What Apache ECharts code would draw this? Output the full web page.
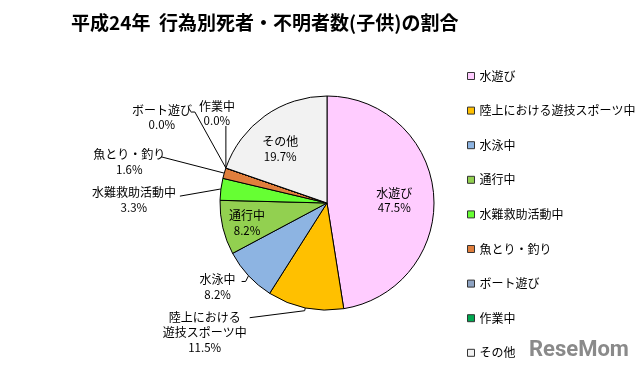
<!DOCTYPE html>
<html><head><meta charset="utf-8">
<script src="https://cdn.jsdelivr.net/npm/echarts@6/dist/echarts.min.js"></script>
<style>html,body{margin:0;padding:0;background:#fff}#c{width:640px;height:373px}</style>
</head><body><div id="c"></div>
<script>
const categories = ['水遊び','陸上における遊技スポーツ中','水泳中','通行中','水難救助活動中','魚とり・釣り','ボート遊び','作業中','その他'];
const labelNames = ['水遊び','陸上における\n遊技スポーツ中','水泳中','通行中','水難救助活動中','魚とり・釣り','ボート遊び','作業中','その他'];
const shares = [47.5, 11.5, 8.2, 8.2, 3.3, 1.6, 0.0, 0.0, 19.7];
const colors = ['#FFCCFF','#FFC000','#8DB4E2','#92D050','#66FF33','#E07E3C','#8EA3C2','#00A850','#F2F2F2'];

const FONT = '"Noto Sans CJK JP", sans-serif';
const insideOffsets = {0:[11,2], 3:[-25,7], 8:[-14,-8]};
// label line: [length, length2]
const lineLen = {1:[3,55], 2:[4,4], 4:[1,40], 5:[1,62], 6:[0,35], 7:[0,0]};
// adjustments relative to ECharts' default leader line: elbow shift, end shift, label shift from end
const lineAdj = {
  1: {elbow:[0,0],   end:[0,7],    label:[-45,-7.5]},
  2: {elbow:[0,3],   end:[0,3],    label:[-24,-9.5]},
  4: {elbow:[0,0],   end:[0,7],    label:[-46,-11.5]},
  5: {elbow:[0,0],   end:[0,-16],  label:[-32,-9.5]},
  6: {elbow:[-31,-56], end:[0,-56], label:[-29,-9.5]},
  7: {elbow:[0,-20], end:[0,-42],  label:[-9,-27.5]}
};

const data = categories.map((c, i) => {
  const inside = insideOffsets[i] !== undefined;
  const item = {name: c, value: shares[i], itemStyle: {color: colors[i]}};
  item.label = inside
    ? {position: 'inside', offset: insideOffsets[i]}
    : {position: 'outside'};
  if (!inside) item.labelLine = {length: lineLen[i][0], length2: lineLen[i][1]};
  return item;
});

const chart = echarts.init(document.getElementById('c'));
chart.setOption({
  animation: false,
  backgroundColor: '#fff',
  title: {
    text: '平成24年  行為別死者・不明者数(子供)の割合',
    left: 66, top: 8,
    textStyle: {fontFamily: FONT, fontSize: 19, fontWeight: 'bold', color: '#000'}
  },
  legend: {
    orient: 'vertical', left: 462, top: 65,
    itemWidth: 7, itemHeight: 7, itemGap: 22.6,
    icon: 'rect',
    textStyle: {fontFamily: FONT, fontSize: 12, color: '#000'},
    itemStyle: {borderColor: '#333', borderWidth: 1},
    data: categories
  },
  graphic: [{
    type: 'text', left: 529, top: 339,
    style: {text: 'ReseMom', fontFamily: 'Roboto, sans-serif', fontWeight: 'bold', fontSize: 22, fill: '#8a8a8a'}
  }],
  series: [{
    type: 'pie',
    center: [327, 203],
    radius: 107,
    startAngle: 90,
    clockwise: true,
    avoidLabelOverlap: false,
    itemStyle: {borderColor: '#000', borderWidth: 1},
    emphasis: {disabled: true},
    labelLine: {show: true, lineStyle: {color: '#000', width: 1}},
    labelLayout: function (p) {
      const adj = lineAdj[p.dataIndex];
      if (!adj || !p.labelLinePoints) return {};
      const pts = p.labelLinePoints.map(q => [q[0], q[1]]);
      pts[1][0] += adj.elbow[0]; pts[1][1] += adj.elbow[1];
      pts[2][0] += adj.end[0];   pts[2][1] += adj.end[1];
      return {
        x: pts[2][0] + adj.label[0],
        y: pts[2][1] + adj.label[1],
        align: 'center', verticalAlign: 'top',
        labelLinePoints: pts
      };
    },
    label: {
      fontFamily: FONT,
      color: '#000',
      formatter: p => labelNames[p.dataIndex].split('\n').map(s => '{n|' + s + '}').join('\n') + '\n{p|' + p.value.toFixed(1) + '%}',
      rich: {
        n: {fontFamily: FONT, fontSize: 12, color: '#000', align: 'center', lineHeight: 15},
        p: {fontFamily: FONT, fontSize: 11.5, color: '#000', align: 'center', lineHeight: 15}
      }
    },
    data: data
  }]
});
</script></body></html>
